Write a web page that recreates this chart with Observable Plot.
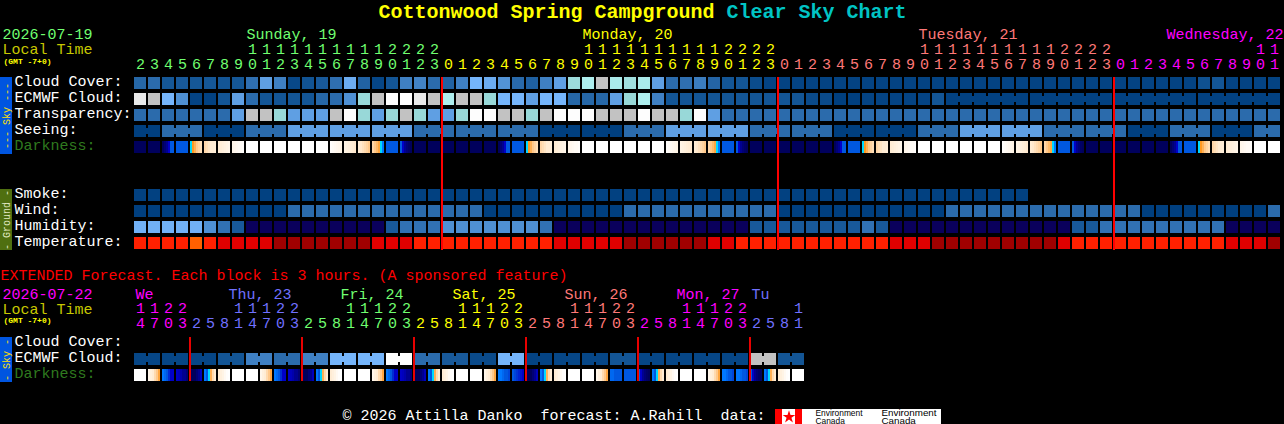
<!DOCTYPE html>
<html>
<head>
<meta charset="utf-8">
<script src="https://cdn.jsdelivr.net/npm/d3@7"></script>
<script src="https://cdn.jsdelivr.net/npm/@observablehq/plot@0.6"></script>
<style>html,body{margin:0;padding:0;background:#000;overflow:hidden}svg{display:block}</style>
</head>
<body>
<div id="chart"></div>
<script>
// ---------- values ----------
const cloudCover = [
1.8,2,1.1,1.2,1.1,1.1,1,1.1,2.2,4, 3,.4,.9,1.2,2.2,4.6,1.6,.3,1,3,
3.1,2,1.6,3,5,4.6,3.6,1.9,1.5,3, 4,6.2,7,8,6.8,6.3,6.8,4,2,2.2,
2.8,1.7,1,1,.6,.2,.2,.2,.2,.2, .2,.2,.2,.2,.2,.2,.2,.2,.2,.2,
.2,.2,.2,.2,.2,.2,.2,.2,.2,.2, .2,.2,.2,.2,.2,.2,.8,1,.2,.2, .2,.2];
const ecmwfCloud = [
9,8,5,3.5,.2,.1,1,4,2,1, 1,1,1,1.8,2,3.5,6,8,10,10,
9,8,7,8,8,6,5,5,4,5, 5,1.8,1.8,1.8,4,6,7,3,1,1,
1,1,1,1,1,1,1,1,.5,.5, 0,0,.2,.2,.2,.2,.2,1,.1,.1,
.1,.1,.1,.1,.1,.1,.1,.1,.1,.1, .1,.1,.1,.1,.1,.1,.1,.1,.1,.1, .1,.1];
const ecmwfGroups = [1,1,1,1,1,1,1,1,1,1,1,1,1,1,1,1,1,1,1,1,1,1,1,1,1,1,1,1,1,1,1,1,1,1,1,1,1,1,1,1,1,1,1,1,1,1,1,1,1,1,1,1,1,1,1,1,1,1,6,6,6,6];
const transparency = [
2,2,2,2,2,2,2,4,8,8, 6,4,4,4,8,10,6,4,6,8,
6,4,4,6,10,10,8,8,6,8, 10,10,10,8,8,8,10,8,8,6,
10,4,2,2,2,2,2,2,2,2, 2,2,2,2,2,2,2,2,2,2,
2,2,2,2,2,2,2,2,2,2, 2,2,2,2,2,2,2,2,2,2, 2,2];
const seeing = [0,2,0,2,4,4,4,2,2,2,0,0,2,4,4,2,2,0,0,2,4,4,2,2,0,2,0,2];
const seeingGroups = [2,3,3,3,3,3,3,3,3,3,3,3,3,3,3,3,3,3,3,3,3,3,3,3,3,3,3,2];
const darkness = ("N N D B R a b c W W W W W W C B2 A S B E N N N N N N " +
  "D B R a b c W W W W W W C B2 A S B E N N N N N N " +
  "D B R a b c W W W W W W C B2 A S B E N N N N N N " +
  "D B R a b c W W").split(" ");
const smoke = [
.1,.1,.1,.1,.1,.1,.1,.1,.1,.1, .1,.1,.1,.1,.1,.1,.1,.1,.1,.1,
.1,.1,.1,.1,.1,.1,.1,.1,.1,.1, .1,.1,.1,.1,.1,.1,.1,.1,.1,.1,
.1,.1,.1,.1,.1,.1,.1,.1,.1,.1, .1,.1,.1,.1,.1,.1,.1,.1,.1,.1, .1,.1,.1,.1];
const wind = [
0,0,0,0,0,0,0,0,0,0, 0,2,2,2,2,2,2,2,2,2,
2,2,2,2,2,0,0,0,0,0, 0,0,0,0,0,2,2,2,2,2,
2,2,2,2,2,2,0,0,0,0, 0,0,0,0,0,0,0,0,2,2,
2,2,2,2,2,2,2,2,2,2, 2,2,0,0,0,0,0,0,0,0, 0,2];
const humidity = [
4.8,4.8,4.8,4.8,4.8,3.5,2.3,1.2,-1,-1, -1,-1,-1,-1,-1,-1,-1,-1,1.2,2.3,
2.3,2.3,3.5,3.5,3.5,3.5,3.5,3.5,3.5,2.3, -1,-1,-1,-1,-1,-1,-1,-1,-1,-1,
-1,-1,-1,-1,1.2,1.2,1.2,1.2,1.2,1.2, 1.2,1.2,2.3,1.2,-1,-1,-1,-1,-1,-1,
-1,-1,-1,-1,-1,-1,-1,1.2,1.2,2.3, 2.3,2.3,2.3,2.3,2.3,2.3,2.3,2.3,-1,-1, -1,-1];
const temperature = [
14,14,14,14,15,14,13,13,13,13, 12,12,12,12,12,12,12,13,13,13,
14,14,14,14,14,14,14,14,14,14, 13,13,13,13,13,12,12,12,12,12,
12,13,13,14,14,14,14,14,14,14, 14,14,14,14,13,13,13,12,12,12,
12,12,12,12,12,12,13,14,14,14, 14,14,14,14,14,14,14,14,13,13, 13,12];
const extEcmwf = [.3,.3,.3,1,3,2,3,5,5,10,2,1.2,.5,5,.2,.3,.3,1,.3,.3,.3,.3,8,1];
const extDarkness = ("W X Y Z M r q W W X Y Z M r q W W X Y Z M r q W " +
  "W X P T M r q W W X G B E r q W W X P P E r q W").split(" ");

const mainHours = [2,3,4,5,6,7,8,9,10,11,12,13,14,15,16,17,18,19,20,21,22,23,
  0,1,2,3,4,5,6,7,8,9,10,11,12,13,14,15,16,17,18,19,20,21,22,23,
  0,1,2,3,4,5,6,7,8,9,10,11,12,13,14,15,16,17,18,19,20,21,22,23,
  0,1,2,3,4,5,6,7,8,9,10,11];
const extHours = [14,17,20,23,
  2,5,8,11,14,17,20,23, 2,5,8,11,14,17,20,23, 2,5,8,11,14,17,20,23,
  2,5,8,11,14,17,20,23, 2,5,8,11,14,17,20,23, 2,5,8,11];
const mainDayLabels = ["Sunday, 19","Monday, 20","Tuesday, 21","Wednesday, 22"];
const mainDayLengths = [22,24,24,12];
const extDayLabels = ["We","Thu, 23","Fri, 24","Sat, 25","Sun, 26","Mon, 27","Tu"];
const extDayLengths = [4,8,8,8,8,8,4];
const rowLabels = ["Cloud Cover:","ECMWF Cloud:","Transparency:","Seeing:","Darkness:"];
const groundLabels = ["Smoke:","Wind:","Humidity:","Temperature:"];
const extLabels = ["Cloud Cover:","ECMWF Cloud:","Darkness:"];

// ---------- styles and layout ----------
const GREEN="#70ff70",YELLOW="#ffff00",SALMON="#ff7878",MAGENTA="#ff00ff",BLUE="#7070ff";
const mainDayColors=[GREEN,YELLOW,SALMON,MAGENTA];
const extDayColors=[MAGENTA,BLUE,GREEN,YELLOW,SALMON,MAGENTA,BLUE];
const colorDomain=[-1,0,1,2,3,4,5,6,7,8,9,10,12,13,14,15,20,21,22,23,24,25,26,27,28,29];
const colorRange=["#0a005c","#003f7f","#135595","#2b6bac","#3f80c3","#5f9fe3","#75b5fb","#98d8d8","#aeeeee","#c2c2c2","#e9e9e9","#fdfdfd",
  "#a00000","#e00000","#ff2000","#ff6000",
  "#00005c","#000090","#0000c8","#0058e0","#0078ff","#00d8ff","#ff9820","#ffc88a","#ffecd4","#ffffff"];
const strips={
  N:[20,20,20,20,20,20], D:[20,20.5,21,22,23,23], B:[23,23,23,23,23,23], E:[23,22,21,20.5,20.2,20],
  R:[25,26,26.5,27,27.3,27.6], a:[27.4,27.6,27.8,28,28,28.1], b:[28,28.1,28.2,28.3,28.4,28.5], c:[28.5,28.6,28.7,28.8,28.8,28.9],
  W:[29,29,29,29,29,29], C:[28.9,28.8,28.7,28.6,28.5,28.4], B2:[28.4,28.3,28.2,28.1,28,27.9], A:[28,27.9,27.7,27.5,27.3,27],
  S:[27.4,27,26.7,26.3,25,24],
  X:[28.5,28.2,28,27.5,27,26.3], Y:[24,23.5,23,22.5,22,22], Z:[22,21.8,21.5,21,21,20.5], M:[20,20,20,20.5,21,21.8],
  r:[24,23,25,26.5,27.5,28], q:[28,28.2,28.4,28.7,28.9,29], P:[24,24,23.5,23,23,22.8], T:[23,22.8,22.6,22.4,22.2,22], G:[23.5,23.5,23,23,23,23]
};
const pxX=px=>(px-134)/14, BW=12/14, SW=2/14;
const cells=[];
function addRow(vals,top){vals.forEach((level,c)=>cells.push({x1:c,x2:c+BW,y1:top,y2:top+12,level}));}
function addGroups(vals,sizes,top){
  // vals has one entry per column: blocks in one group are joined by a narrow bridge
  let c=0;
  sizes.forEach(n=>{for(let k=0;k<n-1;k++)cells.push({x1:c+k+BW,x2:c+k+1,y1:top+3,y2:top+9,level:vals[c+k]});c+=n;});
}
function expand(vals,sizes){return vals.flatMap((v,i)=>Array(sizes[i]).fill(v));}
function addStrips(kinds,top){kinds.forEach((k,c)=>strips[k].forEach((level,s)=>cells.push({x1:c+s*SW,x2:c+(s+1)*SW,y1:top,y2:top+12,level})));}

addRow(cloudCover,77);
addRow(ecmwfCloud,93); addGroups(ecmwfCloud,ecmwfGroups,93);
addRow(transparency,109);
const seeingCols=expand(seeing,seeingGroups);
addRow(seeingCols,125); addGroups(seeingCols,seeingGroups,125);
addStrips(darkness,141);
addRow(smoke,189); addRow(wind,205); addRow(humidity,221); addRow(temperature,237);
const extCols=expand(extEcmwf,extEcmwf.map(()=>2));
addRow(extCols,353); addGroups(extCols,extEcmwf.map(()=>2),353);
addStrips(extDarkness,369);

const texts=[]; // normal 15px text
function T(px,y,text,color){texts.push({x:pxX(px),y,text,color});}
function hourText(hours,lengths,colors,yT,yO){
  const col=lengths.flatMap((n,i)=>Array(n).fill(colors[i]));
  hours.forEach((h,c)=>{
    if(h>=10) texts.push({x:c+BW/2,y:yT,text:String(Math.floor(h/10)),color:col[c],mid:true});
    texts.push({x:c+BW/2,y:yO,text:String(h%10),color:col[c],mid:true});
  });
}
hourText(mainHours,mainDayLengths,mainDayColors,55,70);
hourText(extHours,extDayLengths,extDayColors,314,329);
// day labels start at the 10 o'clock column, pushed left to fit the window
const firstCol=[0,...d3.cumsum(mainDayLengths)];
mainDayLabels.forEach((t,i)=>{
  const ten=firstCol[i]+mainHours.slice(firstCol[i]).indexOf(10);
  const x=Math.min(134+14*ten,1283-t.length*9);
  T(x,40,t,mainDayColors[i]);
});
const extFirst=[0,...d3.cumsum(extDayLengths)];
extDayLabels.forEach((t,i)=>{
  const c=extFirst[i]; const x=(i==0)?135:(i==6)?751:134+14*(c+3)-4;
  T(x,300,t,extDayColors[i]);
});
T(2,40,"2026-07-19",GREEN); T(2,55,"Local Time","#c8c800");
T(2,300,"2026-07-22",MAGENTA); T(2,315,"Local Time","#c8c800");
const labelColor=t=>t==="Darkness:"?"#2f7a1f":"#ffffff";
rowLabels.forEach((t,i)=>T(14,87+16*i,t,labelColor(t)));
groundLabels.forEach((t,i)=>T(14,199+16*i,t,"#ffffff"));
extLabels.forEach((t,i)=>T(14,347+16*i,t,labelColor(t)));
T(0,281,"EXTENDED Forecast. Each block is 3 hours. (A sponsored feature)","#ff0000");
T(342,421,"\u00a9 2026 Attilla Danko  forecast: A.Rahill  data:","#ffffff");

const redTop=[22,46,70], redExt=[4,12,20,28,36,44];
const sideBars=[
  {x1:pxX(0),x2:pxX(12),y1:77,y2:154,fill:"#0055e0",t:"--- Sky ---",c:"#ffe000"},
  {x1:pxX(0),x2:pxX(12),y1:189,y2:250,fill:"#4f6f10",t:"- Ground -",c:"#e0e8c0"},
  {x1:pxX(0),x2:pxX(12),y1:337,y2:382,fill:"#0055e0",t:"- Sky -",c:"#ffe000"}
];
const flagBars=[{x1:775,x2:782},{x1:795,x2:802}];
const sc=[
 {x:815,y:417,t:"Environment",s:8.4},{x:815,y:425.5,t:"Canada",s:8.4},
 {x:881,y:417,t:"Environment",s:9.8},{x:881,y:425.5,t:"Canada",s:9.8}];
const UP=-2; // baseline correction for the text marks

const chart=Plot.plot({
  width:1284,height:424,margin:0,
  style:{background:"#000",fontFamily:"'Liberation Mono',monospace",whiteSpace:"pre"},
  x:{axis:null,type:"linear",domain:[pxX(0),pxX(1284)],range:[0,1284]},
  y:{axis:null,type:"linear",domain:[0,424],range:[0,424]},
  color:{type:"linear",domain:colorDomain,range:colorRange,clamp:true},
  marks:[
    Plot.rect(cells,{x1:"x1",x2:"x2",y1:"y1",y2:"y2",fill:"level",shapeRendering:"crispEdges"}),
    Plot.rect(redTop,{x1:c=>c-1/14,x2:c=>c+1/14,y1:()=>77,y2:()=>250,fill:()=>"#ff0000"}),
    Plot.rect(redExt,{x1:c=>c-1/14,x2:c=>c+1/14,y1:()=>337,y2:()=>381,fill:()=>"#e80000"}),
    Plot.rect(sideBars,{x1:"x1",x2:"x2",y1:"y1",y2:"y2",fill:d=>d.fill,shapeRendering:"crispEdges"}),
    Plot.text(sideBars,{x:d=>(d.x1+d.x2)/2,y:d=>(d.y1+d.y2)/2,text:"t",rotate:-90,fill:d=>d.c,fontSize:10,textAnchor:"middle"}),
    Plot.text(texts.filter(d=>!d.mid),{x:"x",y:"y",dy:UP,text:"text",fill:d=>d.color,fontSize:15,textAnchor:"start",lineAnchor:"bottom"}),
    Plot.text(texts.filter(d=>d.mid),{x:"x",y:"y",dy:UP,text:"text",fill:d=>d.color,fontSize:15,textAnchor:"middle",lineAnchor:"bottom"}),
    Plot.text([{x:pxX(378),t:"Cottonwood Spring Campground",c:"#ffff00"},{x:pxX(726),t:"Clear Sky Chart",c:"#00c4c4"}],
      {x:"x",y:()=>19,dy:UP,text:"t",fill:d=>d.c,fontSize:20,fontWeight:"bold",textAnchor:"start",lineAnchor:"bottom"}),
    Plot.text([{x:pxX(3),y:65},{x:pxX(3),y:324}],{x:"x",y:"y",dy:UP,text:()=>"(GMT -7+0)",fill:()=>"#ffff00",fontSize:8,fontWeight:"bold",textAnchor:"start",lineAnchor:"bottom"}),
    Plot.rect([0],{x1:()=>pxX(775),x2:()=>pxX(941),y1:()=>409,y2:()=>424,fill:()=>"#ffffff",shapeRendering:"crispEdges"}),
    Plot.rect(flagBars,{x1:d=>pxX(d.x1),x2:d=>pxX(d.x2),y1:()=>409,y2:()=>424,fill:()=>"#ff0000",shapeRendering:"crispEdges"}),
    Plot.dot([0],{x:()=>pxX(788.5),y:()=>416.5,r:4,symbol:"star",fill:()=>"#ff0000"}),
    Plot.text(sc,{x:d=>pxX(d.x),y:"y",dy:UP,text:"t",fontSize:d=>d.s,fill:()=>"#000000",fontFamily:"'Liberation Sans',sans-serif",textAnchor:"start",lineAnchor:"bottom"})
  ]
});
document.getElementById("chart").appendChild(chart);
</script>
</body>
</html>
